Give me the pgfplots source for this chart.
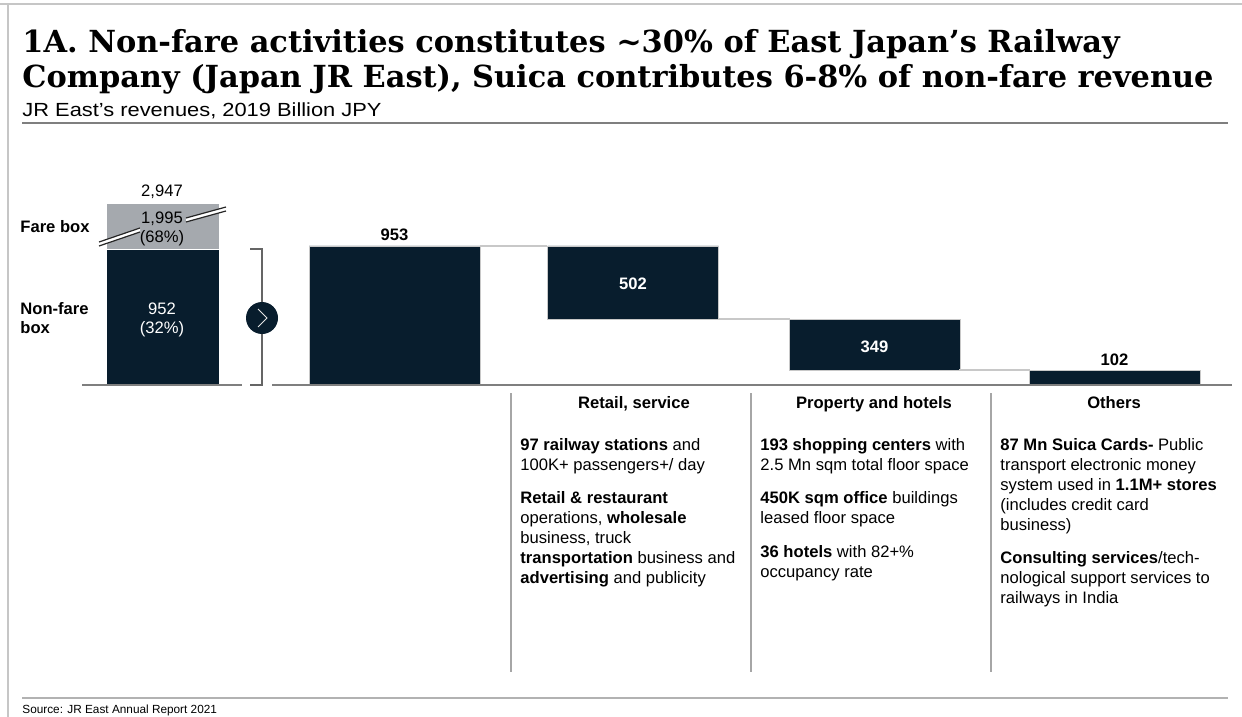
\documentclass[border=0pt]{standalone}
\usepackage{pgfplots}
\pgfplotsset{compat=1.18}
\usepackage{fontspec}
\setmainfont{Liberation Sans}
\newfontfamily\titlefont{DejaVu Serif}
\definecolor{navy}{HTML}{081D2D}
\definecolor{fare}{HTML}{A5A9AE}
\definecolor{conn}{HTML}{C8C8C8}
\definecolor{rule}{HTML}{7F7F7F}
\newcommand\body{\fontsize{8.3pt}{10pt}\selectfont}
\newcommand\tl[3]{\node[anchor=base west, inner sep=0pt, font=\body] at (#1,#2) {#3};}
\begin{document}
\begin{tikzpicture}
\path[use as bounding box] (0pt,0pt) rectangle (621pt,-358.5pt);
% ---- left stacked bar (fare box broken) ----
\begin{axis}[at={(0pt,-192.5pt)}, anchor=south west, scale only axis,
  width=621pt, height=92.86pt, xmin=0, xmax=1242, ymin=0, ymax=1300,
  hide axis, ybar stacked, bar width=113]
\addplot[fill=navy, draw=white, line width=0.4pt] coordinates {(162.5,952)};
% fare box 1,995 shown truncated (axis break)
\addplot[fill=fare, draw=white, line width=0.4pt] coordinates {(162.5,322)};
\end{axis}
% ---- waterfall ----
\begin{axis}[at={(0pt,-192.5pt)}, anchor=south west, scale only axis,
  width=621pt, height=72.95pt, xmin=0, xmax=1242, ymin=0, ymax=1000,
  hide axis, ybar stacked, bar width=171]
\addplot[draw=none, fill=none] coordinates {(394.5,0) (633,451) (874.5,102) (1114.5,0)};
\addplot[fill=navy, draw=conn, line width=0.4pt] coordinates {(394.5,953) (633,502) (874.5,349) (1114.5,102)};
\end{axis}
\begin{axis}[at={(0pt,-192.5pt)}, anchor=south west, scale only axis,
  width=621pt, height=72.95pt, xmin=0, xmax=1242, ymin=0, ymax=1000, hide axis]
\addplot[conn, line width=0.8pt, mark=none] coordinates {(480,953) (547,953)};
\addplot[conn, line width=0.8pt, mark=none] coordinates {(719,451) (790,451)};
\addplot[conn, line width=0.8pt, mark=none] coordinates {(959,102) (1030,102)};
\end{axis}
\begin{scope}[x=0.5pt, y=-0.5pt]
% frame
\draw[gray!45, line width=1pt] (0,4) -- (1242,4);
\draw[gray!45, line width=1pt] (8,4) -- (8,717);
% title
\node[anchor=base west, inner sep=0pt, font=\titlefont\bfseries\fontsize{15.2pt}{18pt}\selectfont] at (22,53) {1A. Non-fare activities constitutes \textasciitilde30\% of East Japan’s Railway};
\node[anchor=base west, inner sep=0pt, font=\titlefont\bfseries\fontsize{15.2pt}{18pt}\selectfont] at (22,88) {Company (Japan JR East), Suica contributes 6-8\% of non-fare revenue};
\node[anchor=base west, inner sep=0pt, font=\fontsize{9.5pt}{11pt}\selectfont, xscale=1.15] at (22,116.5) {JR East’s revenues, 2019 Billion JPY};
\draw[rule, line width=0.7pt] (22,123) -- (1228,123);
% baselines
\draw[rule, line width=1pt] (82,385) -- (242,385);
\draw[rule, line width=1pt] (272,385) -- (1232,385);
% bracket and circle
\draw[rule!80!black, line width=0.6pt] (250,249) -- (262,249) -- (262,385) -- (250,385);
\fill[navy] (262,318) circle (16);
\draw[white!80!gray, line width=0.5pt] (258,309) -- (267,318) -- (258,327);
% break marks
\fill[white] (99,246) -- (140,232) -- (140,228) -- (99,242) -- cycle;
\draw[black!85, line width=0.6pt] (99,246) -- (140,232) (99,242) -- (140,228);
\fill[white] (186,222) -- (226,211) -- (226,207) -- (186,218) -- cycle;
\draw[black!85, line width=0.6pt] (186,222) -- (226,211) (186,218) -- (226,207);
% left bar labels
\node[anchor=base, inner sep=0pt, font=\body] at (162,196) {2,947};
\node[anchor=base, inner sep=0pt, font=\body] at (162,223) {1,995};
\node[anchor=base, inner sep=0pt, font=\body] at (162,242) {(68\%)};
\node[anchor=base, inner sep=0pt, font=\body, text=white] at (162,314) {952};
\node[anchor=base, inner sep=0pt, font=\body, text=white] at (162,333) {(32\%)};
\node[anchor=base west, inner sep=0pt, font=\body\bfseries] at (20,232) {Fare box};
\node[anchor=base west, inner sep=0pt, font=\body\bfseries] at (20,314) {Non-fare};
\node[anchor=base west, inner sep=0pt, font=\body\bfseries] at (20,333) {box};
% waterfall labels
\node[anchor=base, inner sep=0pt, font=\body\bfseries] at (394.5,240) {953};
\node[anchor=base, inner sep=0pt, font=\body\bfseries, text=white] at (633,289) {502};
\node[anchor=base, inner sep=0pt, font=\body\bfseries, text=white] at (874.5,352) {349};
\node[anchor=base, inner sep=0pt, font=\body\bfseries] at (1114.5,365) {102};
% column dividers
\foreach \x in {511,751,991} \draw[gray!70, line width=0.6pt] (\x,393) -- (\x,672);
\node[anchor=base, inner sep=0pt, font=\body\bfseries] at (634,408) {Retail, service};
\node[anchor=base, inner sep=0pt, font=\body\bfseries] at (874,408) {Property and hotels};
\node[anchor=base, inner sep=0pt, font=\body\bfseries] at (1114,408) {Others};
% column 1
\tl{520}{450}{\textbf{97 railway stations} and}
\tl{520}{470}{100K+ passengers+/ day}
\tl{520}{503}{\textbf{Retail \& restaurant}}
\tl{520}{523}{operations, \textbf{wholesale}}
\tl{520}{543}{business, truck}
\tl{520}{563}{\textbf{transportation} business and}
\tl{520}{583}{\textbf{advertising} and publicity}
% column 2
\tl{760}{450}{\textbf{193 shopping centers} with}
\tl{760}{470}{2.5 Mn sqm total floor space}
\tl{760}{503}{\textbf{450K sqm office} buildings}
\tl{760}{523}{leased floor space}
\tl{760}{557}{\textbf{36 hotels} with 82+\%}
\tl{760}{577}{occupancy rate}
% column 3
\tl{1000}{450}{\textbf{87 Mn Suica Cards-} Public}
\tl{1000}{470}{transport electronic money}
\tl{1000}{490}{system used in \textbf{1.1M+ stores}}
\tl{1000}{510}{(includes credit card}
\tl{1000}{530}{business)}
\tl{1000}{563}{\textbf{Consulting services}/tech-}
\tl{1000}{583}{nological support services to}
\tl{1000}{603}{railways in India}
% footer
\draw[gray!60, line width=0.6pt] (22,698) -- (1228,698);
\node[anchor=base west, inner sep=0pt, font=\fontsize{5.9pt}{7pt}\selectfont] at (22,713) {Source: JR East Annual Report 2021};
\end{scope}
\end{tikzpicture}
\end{document}
